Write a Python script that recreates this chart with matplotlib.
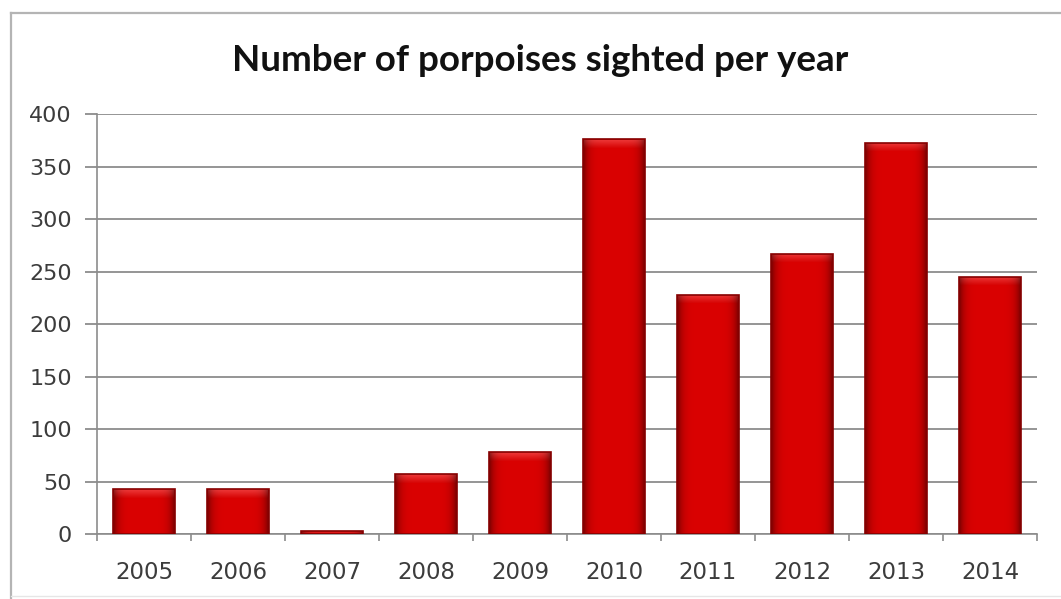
import numpy as np
import matplotlib.pyplot as plt
from matplotlib.lines import Line2D
from matplotlib.ticker import FixedLocator

# Data
years = ['2005', '2006', '2007', '2008', '2009', '2010', '2011', '2012', '2013', '2014']
sightings = [43, 43, 3, 57, 78, 376, 228, 267, 373, 245]
y_ticks = [0, 50, 100, 150, 200, 250, 300, 350, 400]
title = 'Number of porpoises sighted per year'

W, H = 1061, 599
fig = plt.figure(figsize=(W / 100, H / 100), dpi=100)
fig.patch.set_facecolor('white')
ax = fig.add_axes([97 / W, 1 - 534.3 / H, 940 / W, 420 / H])

x = np.arange(len(years))
bar_w = 0.65
bars = ax.bar(x, sightings, width=bar_w, color='#d00000', edgecolor='none', zorder=3)

# Bevelled look: horizontal shading across each bar plus a lighter top cap
nx = 64
t = np.linspace(0, 1, nx)
shade = 1 - 0.45 * np.abs(2 * t - 1) ** 6
base = np.array([218, 2, 2]) / 255.0
body = (shade[:, None] * base)[None, :, :]

cap_rows = 12
tv = np.linspace(0, 1, cap_rows)[:, None]
cap_top = np.array([238, 58, 58]) / 255.0
cap_bot = np.array([216, 6, 6]) / 255.0
cap = (1 - tv)[..., None] * cap_top + tv[..., None] * cap_bot
cap = cap * shade[None, :, None]
cap = cap[::-1]  # image origin lower: last row drawn at top

for rect in bars:
    x0, w, h = rect.get_x(), rect.get_width(), rect.get_height()
    im = ax.imshow(body, extent=[x0, x0 + w, 0, h], aspect='auto',
                   origin='lower', zorder=3.5, interpolation='bilinear')
    im.set_clip_path(rect)
    ch = min(h, 8.0)
    im2 = ax.imshow(cap, extent=[x0, x0 + w, h - ch, h], aspect='auto',
                    origin='lower', zorder=3.6, interpolation='bilinear')
    im2.set_clip_path(rect)

# Dark outline over the shaded bars
ax.bar(x, sightings, width=bar_w, fill=False, edgecolor='#860000',
       linewidth=1.2, zorder=4)

ax.set_xlim(-0.5, len(years) - 0.5)
ax.set_ylim(0, 400)

grid_c = '#8c8c8c'
for s in ['top', 'right']:
    ax.spines[s].set_visible(False)
ax.spines['left'].set_color(grid_c)
ax.spines['bottom'].set_color(grid_c)
ax.spines['left'].set_linewidth(1.2)
ax.spines['bottom'].set_linewidth(1.2)

ax.set_yticks(y_ticks)
ax.set_yticklabels([str(v) for v in y_ticks])
ax.yaxis.grid(True, color=grid_c, linewidth=1.3)
ax.set_axisbelow(True)
ax.tick_params(axis='y', length=9, width=1.3, color=grid_c, pad=9,
               labelsize=16, labelcolor='#3c3c3c')

ax.set_xticks(x)
ax.set_xticklabels(years)
ax.xaxis.set_minor_locator(FixedLocator(np.arange(-0.5, len(years), 1.0)))
ax.tick_params(axis='x', which='major', length=0, pad=19,
               labelsize=16.5, labelcolor='#3c3c3c')
ax.tick_params(axis='x', which='minor', length=5, width=1.2, color=grid_c,
               direction='out')

fig.text(540 / W, 1 - 71 / H, title, ha='center', va='baseline',
         fontsize=26.5, fontweight='bold', family='Lato', color='#111111')

# Chart area frame
frame_c = '#b4b4b4'
fig.add_artist(Line2D([11 / W, 11 / W], [0, 1 - 13 / H], transform=fig.transFigure,
                      color=frame_c, linewidth=1.6))
fig.add_artist(Line2D([11 / W, 1], [1 - 13 / H, 1 - 13 / H], transform=fig.transFigure,
                      color=frame_c, linewidth=1.6))
fig.add_artist(Line2D([11 / W, 1], [1 - 596 / H, 1 - 596 / H], transform=fig.transFigure,
                      color='#e6e6e6', linewidth=1.0))

fig.savefig('out.png', dpi=100)
